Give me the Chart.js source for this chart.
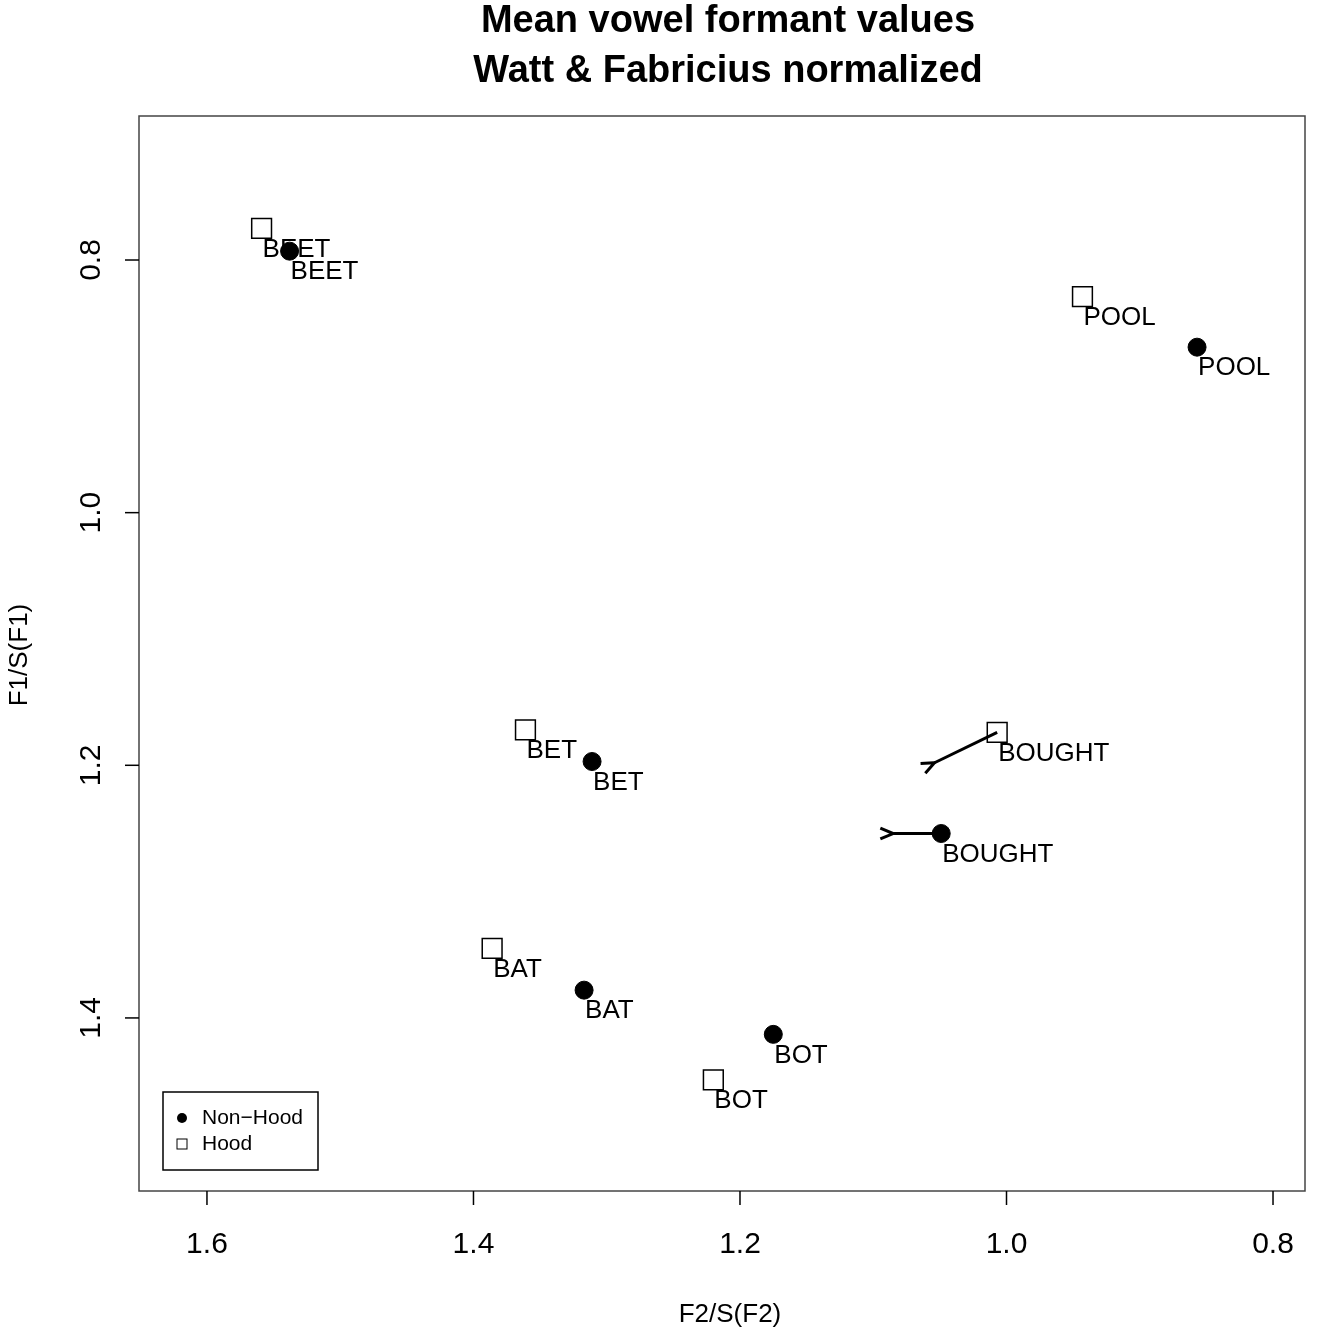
<!DOCTYPE html>
<html>
<head>
<meta charset="utf-8">
<script src="https://cdn.jsdelivr.net/npm/chart.js@4"></script>
<style>
  html, body { margin: 0; padding: 0; background: #fff; }
  #wrap { width: 1325px; height: 1336px; }
</style>
</head>
<body>
<div id="wrap"><canvas id="vowels"></canvas></div>
<script>
// vowel data (F2/S(F2) on x, F1/S(F1) on y)
const vowels      = ['BEET', 'POOL', 'BET', 'BOUGHT', 'BAT', 'BOT'];
const nonHoodF2   = [1.538, 0.857, 1.311, 1.049, 1.317, 1.175];
const nonHoodF1   = [0.793, 0.869, 1.197, 1.254, 1.378, 1.413];
const hoodF2      = [1.559, 0.943, 1.361, 1.007, 1.386, 1.220];
const hoodF1      = [0.775, 0.829, 1.172, 1.174, 1.345, 1.449];
// arrows: [fromF2, fromF1, toF2, toF1]
const arrows      = [[1.007, 1.174, 1.054, 1.198], [1.049, 1.254, 1.085, 1.254]];
const xTicks      = [1.6, 1.4, 1.2, 1.0, 0.8];
const yTicks      = [0.8, 1.0, 1.2, 1.4];

const FONT = '"Liberation Sans", Arial, sans-serif';

const pts = (xs, ys) => xs.map((x, i) => ({ x: x, y: ys[i] }));

// ─── draw frame, ticks, labels, arrows, legend ───
const decor = {
  id: 'decor',
  afterDraw(chart) {
    const ctx = chart.ctx, a = chart.chartArea;
    const xs = chart.scales.x, ys = chart.scales.y;
    ctx.save();
    ctx.fillStyle = '#000';
    ctx.strokeStyle = '#444';
    ctx.lineWidth = 1.5;
    ctx.strokeRect(a.left, a.top, a.right - a.left, a.bottom - a.top);

    // title
    ctx.textAlign = 'center';
    ctx.textBaseline = 'middle';
    ctx.font = 'bold 38px ' + FONT;
    ctx.fillText('Mean vowel formant values', 728, 22);
    ctx.fillText('Watt & Fabricius normalized', 728, 72);

    // x ticks
    ctx.strokeStyle = '#000';
    ctx.font = '30px ' + FONT;
    xTicks.forEach(v => {
      const p = xs.getPixelForValue(v);
      ctx.beginPath(); ctx.moveTo(p, a.bottom); ctx.lineTo(p, a.bottom + 14); ctx.stroke();
      ctx.fillText(v.toFixed(1), p, 1245);
    });
    // y ticks, rotated
    yTicks.forEach(v => {
      const p = ys.getPixelForValue(v);
      ctx.beginPath(); ctx.moveTo(a.left, p); ctx.lineTo(a.left - 14, p); ctx.stroke();
      ctx.save(); ctx.translate(92, p); ctx.rotate(-Math.PI / 2);
      ctx.fillText(v.toFixed(1), 0, 0); ctx.restore();
    });
    // axis titles
    ctx.font = '26px ' + FONT;
    ctx.fillText('F2/S(F2)', 730, 1315);
    ctx.save(); ctx.translate(20, 655); ctx.rotate(-Math.PI / 2);
    ctx.fillText('F1/S(F1)', 0, 0); ctx.restore();

    // point labels
    ctx.textAlign = 'left';
    ctx.textBaseline = 'top';
    ctx.font = '26px ' + FONT;
    vowels.forEach((w, i) => {
      ctx.fillText(w, xs.getPixelForValue(hoodF2[i]) + 1, ys.getPixelForValue(hoodF1[i]) + 8);
      ctx.fillText(w, xs.getPixelForValue(nonHoodF2[i]) + 1, ys.getPixelForValue(nonHoodF1[i]) + 8);
    });

    // arrows
    ctx.lineWidth = 3;
    arrows.forEach(([x0, y0, x1, y1]) => {
      const px0 = xs.getPixelForValue(x0), py0 = ys.getPixelForValue(y0);
      const px1 = xs.getPixelForValue(x1), py1 = ys.getPixelForValue(y1);
      const ang = Math.atan2(py1 - py0, px1 - px0);
      ctx.beginPath(); ctx.moveTo(px0, py0); ctx.lineTo(px1, py1); ctx.stroke();
      ctx.beginPath();
      ctx.moveTo(px1 + 14 * Math.cos(ang - 0.4), py1 + 14 * Math.sin(ang - 0.4));
      ctx.lineTo(px1, py1);
      ctx.lineTo(px1 + 14 * Math.cos(ang + 0.4), py1 + 14 * Math.sin(ang + 0.4));
      ctx.stroke();
    });

    // legend
    ctx.lineWidth = 1.5;
    ctx.strokeStyle = '#000';
    ctx.strokeRect(163, 1092, 155, 78);
    ctx.beginPath(); ctx.arc(182, 1118, 5, 0, Math.PI * 2); ctx.fill();
    ctx.lineWidth = 1;
    ctx.strokeRect(177, 1139, 10, 10);
    ctx.font = '21px ' + FONT;
    ctx.textBaseline = 'middle';
    ctx.fillText('Non\u2212Hood', 202, 1118);
    ctx.fillText('Hood', 202, 1144);
    ctx.restore();
  }
};

new Chart(document.getElementById('vowels'), {
  type: 'scatter',
  data: {
    datasets: [
      { label: 'Non-Hood', data: pts(nonHoodF2, nonHoodF1), pointStyle: 'circle',
        pointRadius: 9, backgroundColor: '#000', borderColor: '#000' },
      { label: 'Hood', data: pts(hoodF2, hoodF1), pointStyle: 'rect',
        pointRadius: 14, backgroundColor: '#fff', borderColor: '#000', borderWidth: 1.5 }
    ]
  },
  options: {
    responsive: true,
    maintainAspectRatio: false,
    animation: false,
    layout: { padding: { left: 139, top: 116, right: 20, bottom: 145 } },
    plugins: { legend: { display: false }, tooltip: { enabled: false } },
    scales: {
      x: { type: 'linear', reverse: true, min: 0.776, max: 1.651, display: false },
      y: { type: 'linear', reverse: true, min: 0.686, max: 1.537, display: false }
    }
  },
  plugins: [decor]
});
</script>
</body>
</html>
